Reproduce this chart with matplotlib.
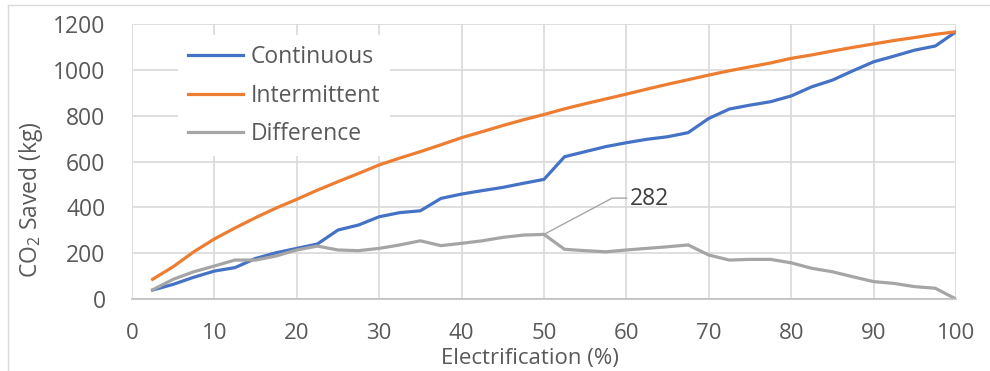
import matplotlib
matplotlib.use("Agg")
import matplotlib.pyplot as plt
from matplotlib.lines import Line2D

plt.rcParams["font.family"] = ["Open Sans", "DejaVu Sans"]
plt.rcParams["mathtext.fontset"] = "custom"
plt.rcParams["mathtext.rm"] = "Open Sans"

# data (every 2.5 %)
electrification = [2.5 * i for i in range(1, 41)]
continuous = [39, 64, 95, 122, 137, 177, 202, 221, 240, 301,
              323, 359, 377, 385, 439, 458, 473, 487, 505, 522,
              621, 643, 665, 682, 697, 708, 726, 788, 829, 846,
              861, 886, 926, 955, 996, 1035, 1060, 1086, 1104, 1166]
intermittent = [86, 141, 206, 262, 310, 355, 397, 435, 475, 512,
                548, 585, 615, 643, 673, 704, 730, 757, 782, 805,
                830, 852, 873, 894, 916, 937, 957, 977, 996, 1013,
                1030, 1050, 1065, 1082, 1098, 1113, 1128, 1141, 1155, 1166]
difference = [40, 86, 119, 144, 170, 170, 188, 214, 231, 214,
              211, 221, 236, 254, 233, 243, 254, 269, 279, 282,
              217, 211, 206, 214, 221, 228, 236, 192, 170, 173,
              173, 158, 134, 119, 97, 76, 68, 54, 47, 0]
x_ticks = list(range(0, 101, 10))
y_ticks = list(range(0, 1201, 200))

text_col = "#595959"
fs = 16.5

fig = plt.figure(figsize=(9.9, 3.71), dpi=100)
ax = fig.add_axes([0.1333, 0.194, 0.8323, 0.7413])

ax.plot(electrification, continuous, color="#4472C4", lw=2.3, label="Continuous", solid_joinstyle="round")
ax.plot(electrification, intermittent, color="#ED7D31", lw=2.3, label="Intermittent", solid_joinstyle="round")
ax.plot(electrification, difference, color="#A5A5A5", lw=2.3, label="Difference", solid_joinstyle="round")

# data label on the difference peak
i = difference.index(max(difference))
ax.annotate(f"{difference[i]:.0f}", xy=(electrification[i], difference[i]), xytext=(60.4, 435),
            fontsize=fs, color="#404040", ha="left", va="center",
            arrowprops=dict(arrowstyle="-", color="#a5a5a5", lw=1, relpos=(0, 0.55),
                            shrinkA=0, shrinkB=0,
                            connectionstyle="angle,angleA=0,angleB=28,rad=0"))

ax.set_xlim(0, 100)
ax.set_ylim(0, 1200)
ax.set_xticks(x_ticks)
ax.set_yticks(y_ticks)
ax.grid(True, color="#d9d9d9", lw=1.2)
ax.set_axisbelow(True)
for s in ["top", "right", "left"]:
    ax.spines[s].set_visible(False)
ax.spines["bottom"].set_color("#bfbfbf")
ax.spines["bottom"].set_linewidth(1.2)
ax.tick_params(length=0, labelsize=fs, labelcolor=text_col)
ax.tick_params(axis="x", labelsize=16, pad=17)
ax.tick_params(axis="y", pad=19)

ax.set_xlabel("Electrification (%)", fontsize=16, color=text_col)
ax.xaxis.set_label_coords(0.483, -0.178)
ax.set_ylabel("CO$_{\\mathrm{2}}$ Saved (kg)", fontsize=fs, color=text_col)
ax.yaxis.set_label_coords(-0.106, 0.36)

leg = ax.legend(loc="upper left", bbox_to_anchor=(0.056, 0.96), borderaxespad=0,
                fontsize=fs, frameon=True, fancybox=False, edgecolor="none",
                facecolor="white", framealpha=1, handlelength=2.4,
                handletextpad=0.3, labelspacing=0.62, borderpad=0.45)
for t in leg.get_texts():
    t.set_color(text_col)

# chart area border
fig.add_artist(Line2D([8 / 990, 8 / 990], [0, 1 - 5 / 371], color="#d9d9d9", lw=1))
fig.add_artist(Line2D([8 / 990, 1], [1 - 5 / 371, 1 - 5 / 371], color="#d9d9d9", lw=1))

fig.savefig("out.png", dpi=100)
